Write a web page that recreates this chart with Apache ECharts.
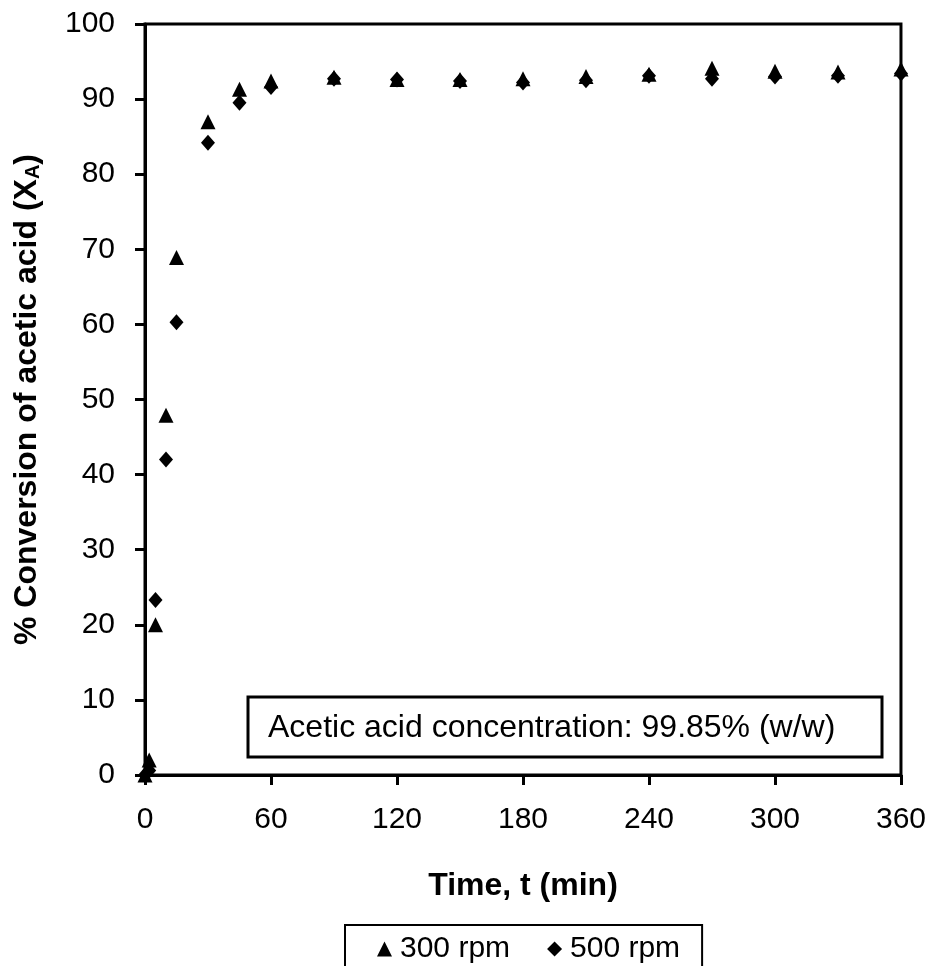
<!DOCTYPE html>
<html><head><meta charset="utf-8">
<script src="https://cdn.jsdelivr.net/npm/echarts@6/dist/echarts.min.js"></script>
<style>html,body{margin:0;padding:0;background:#fff}#c{width:929px;height:966px}</style>
</head><body><div id="c"></div>
<script>
var times = [0, 2, 5, 10, 15, 30, 45, 60, 90, 120, 150, 180, 210, 240, 270, 300, 330, 360];
var rpm300 = [0, 2.0, 20.0, 47.9, 68.9, 87.0, 91.3, 92.4, 92.9, 92.6, 92.6, 92.7, 93.0, 93.3, 94.1, 93.7, 93.6, 94.0];
var rpm500 = [0, 0.6, 23.3, 42.0, 60.3, 84.2, 89.5, 91.6, 92.7, 92.6, 92.4, 92.2, 92.5, 93.1, 92.7, 93.0, 93.1, 93.4];
var xTicks = [0, 60, 120, 180, 240, 300, 360];
var seriesNames = ['300 rpm', '500 rpm'];
var noteText = 'Acetic acid concentration: 99.85% (w/w)';

function pairs(ys){ return times.map(function(t,i){ return [t, ys[i]]; }); }
var font = 'Arial, "Liberation Sans", Helvetica, sans-serif';
var chart = echarts.init(document.getElementById('c'));
chart.setOption({
  animation: false,
  backgroundColor: '#fff',
  grid: { left: 145, right: 28, top: 24, bottom: 191, show: true, borderColor: '#000', borderWidth: 3 },
  xAxis: {
    type: 'value', min: xTicks[0], max: xTicks[xTicks.length-1], interval: 60,
    name: 'Time, t (min)', nameLocation: 'middle', nameGap: 95,
    nameTextStyle: { fontFamily: font, fontSize: 32, fontWeight: 'bold', color: '#000' },
    axisLine: { lineStyle: { color: '#000', width: 3 } },
    axisTick: { show: true, inside: false, length: 10, lineStyle: { color: '#000', width: 3 } },
    axisLabel: { fontFamily: font, fontSize: 30, color: '#000', margin: 30 },
    splitLine: { show: false }
  },
  yAxis: {
    type: 'value', min: 0, max: 100, interval: 10,
    name: '% Conversion of acetic acid (X{sub|A})', nameLocation: 'middle', nameGap: 102, nameRotate: 90,
    nameTextStyle: { fontFamily: font, fontSize: 32, fontWeight: 'bold', color: '#000',
      rich: { sub: { fontFamily: font, fontSize: 20, fontWeight: 'bold', color: '#000', verticalAlign: 'bottom', padding: [12,0,0,0] } } },
    axisLine: { lineStyle: { color: '#000', width: 3 } },
    axisTick: { show: true, inside: false, length: 10, lineStyle: { color: '#000', width: 3 } },
    axisLabel: { fontFamily: font, fontSize: 30, color: '#000', margin: 30 },
    splitLine: { show: false }
  },
  legend: {
    data: [
      { name: seriesNames[0], icon: 'triangle' },
      { name: seriesNames[1], icon: 'diamond' }
    ],
    left: 345, top: 925, orient: 'horizontal',
    itemWidth: 15, itemHeight: 15, itemGap: 37,
    padding: [9, 22, 20, 32],
    borderColor: '#000', borderWidth: 2,
    textStyle: { fontFamily: font, fontSize: 30, color: '#000', padding: [0,0,0,3] }
  },
  series: [
    { name: seriesNames[0], type: 'scatter', data: pairs(rpm300), symbol: 'triangle', symbolSize: [15, 15],
      itemStyle: { color: '#000', opacity: 1 }, z: 3 },
    { name: seriesNames[1], type: 'scatter', data: pairs(rpm500), symbol: 'diamond', symbolSize: [14, 16],
      itemStyle: { color: '#000', opacity: 1 }, z: 4 }
  ],
  graphic: [
    { type: 'rect', shape: { x: 248, y: 697, width: 634, height: 60 },
      style: { fill: '#fff', stroke: '#000', lineWidth: 3 }, z: 10 },
    { type: 'text', x: 268, y: 728, z: 11,
      style: { text: noteText, fontFamily: font, fontSize: 32, fill: '#000', verticalAlign: 'middle' } }
  ]
});
</script></body></html>
